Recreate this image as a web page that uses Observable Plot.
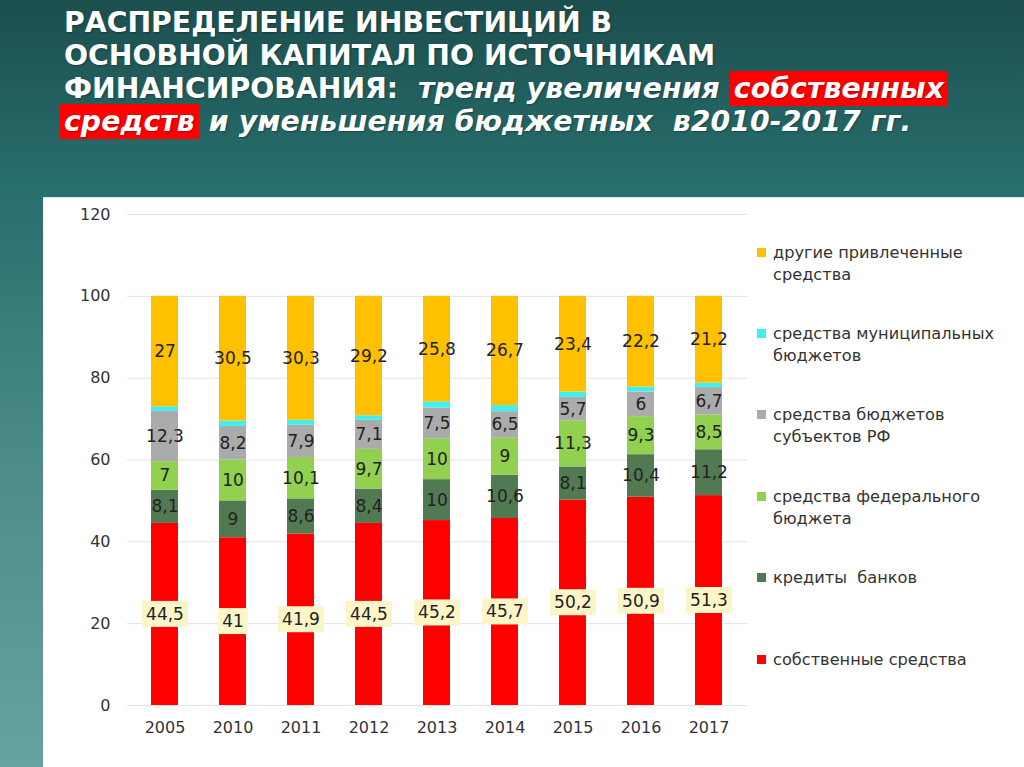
<!DOCTYPE html>
<html>
<head>
<meta charset="utf-8">
<script src="https://cdn.jsdelivr.net/npm/d3@7"></script>
<script src="https://cdn.jsdelivr.net/npm/@observablehq/plot@0.6"></script>
<style>
  html, body { margin: 0; padding: 0; }
  body {
    width: 1024px; height: 767px; overflow: hidden; position: relative;
    background: linear-gradient(to bottom, #1c4e4e 0%, #266c6a 22%, #4b8c8a 60%, #64a3a1 100%);
    font-family: "DejaVu Sans", Verdana, sans-serif;
  }
  #title {
    position: absolute; left: 64px; top: 6px;
    color: #fff; font-weight: bold; font-size: 28.3px; line-height: 33px;
    white-space: nowrap; text-shadow: 1px 1px 2px rgba(0,0,0,0.3);
  }
  #title i { font-style: italic; letter-spacing: 0.1px; }
  #title .hl { background: #ff0000; padding: 1px 4px; }
  #panel {
    position: absolute; left: 43px; top: 197px; width: 981px; height: 570px;
    background: #fff; border-top: 1px solid #cfeeee; box-sizing: border-box;
  }
  #chart { position: absolute; left: 43px; top: 197px; }
  #legend { position: absolute; left: 757px; top: 0; }
  .lg { position: absolute; left: 0; white-space: pre; font-size: 16.2px; line-height: 22px; color: #333; }
  .lg .sw { position: absolute; left: 0; top: 6px; width: 9px; height: 9px; }
  .lg .tx { position: absolute; left: 16px; top: 0; }
</style>
</head>
<body>
<div id="title">РАСПРЕДЕЛЕНИЕ ИНВЕСТИЦИЙ В<br>ОСНОВНОЙ КАПИТАЛ ПО ИСТОЧНИКАМ<br>ФИНАНСИРОВАНИЯ:&nbsp; <i>тренд увеличения <span class="hl">собственных</span></i><br><i><span class="hl" style="margin-left:-4px">средств</span> и уменьшения бюджетных&nbsp; в2010-2017 гг.</i></div>
<div id="panel"></div>
<div id="chart"></div>
<div id="legend"></div>
<script>
// ---- data ----
const years = ["2005", "2010", "2011", "2012", "2013", "2014", "2015", "2016", "2017"];
const own       = [44.5, 41, 41.9, 44.5, 45.2, 45.7, 50.2, 50.9, 51.3];   // собственные средства
const banks     = [8.1, 9, 8.6, 8.4, 10, 10.6, 8.1, 10.4, 11.2];         // кредиты банков
const federal   = [7, 10, 10.1, 9.7, 10, 9, 11.3, 9.3, 8.5];             // федеральный бюджет
const regional  = [12.3, 8.2, 7.9, 7.1, 7.5, 6.5, 5.7, 6, 6.7];          // бюджеты субъектов РФ
const municipal = [1.1, 1.3, 1.2, 1.1, 1.5, 1.5, 1.3, 1.2, 1.1];         // муниципальные бюджеты (не подписаны)
const other     = [27, 30.5, 30.3, 29.2, 25.8, 26.7, 23.4, 22.2, 21.2];  // другие привлеченные средства

const seriesKeys   = ["own", "banks", "federal", "regional", "municipal", "other"];
const seriesValues = [own, banks, federal, regional, municipal, other];
const seriesLabels = [
  "собственные средства",
  "кредиты  банков",
  "средства федерального\nбюджета",
  "средства бюджетов\nсубъектов РФ",
  "средства муниципальных\nбюджетов",
  "другие привлеченные\nсредства"
];
const seriesColors = ["#ff0000", "#527a52", "#92d050", "#ababab", "#3ff0f0", "#ffc000"];
const yTicks = [0, 20, 40, 60, 80, 100, 120];

// ---- table ----
const rows = [];
seriesKeys.forEach((k, si) => {
  years.forEach((y, yi) => rows.push({year: y, series: k, value: seriesValues[si][yi]}));
});
const fmt = v => String(v).replace(".", ",");

const stackOpts = (textFn) => Plot.stackY({
  x: "year", y: "value", z: "series", order: seriesKeys, text: textFn
});

const chart = Plot.plot({
  width: 720,
  height: 570,
  marginLeft: 84,
  marginRight: 16,
  marginTop: 17,
  marginBottom: 62,
  style: {fontFamily: "DejaVu Sans, Verdana, sans-serif", fontSize: "16px", color: "#333", background: "transparent"},
  x: {domain: years, paddingInner: 0.6, paddingOuter: 0.33, align: 0.5, label: null},
  y: {domain: [0, 120], label: null},
  color: {domain: seriesKeys, range: seriesColors},
  marks: [
    Plot.gridY(yTicks, {stroke: "#e3e3e3", strokeOpacity: 1}),
    Plot.axisY(yTicks, {tickSize: 0, tickPadding: 17, label: null, fill: "#333"}),
    Plot.axisX({tickSize: 0, tickPadding: 16, label: null, fill: "#333"}),
    Plot.barY(rows, Plot.stackY({x: "year", y: "value", z: "series", order: seriesKeys, fill: "series"})),
    Plot.text(rows, {...stackOpts(d => (d.series === "own" || d.series === "municipal") ? null : fmt(d.value)), fontSize: 17, fill: "#222"}),
    Plot.text(rows, {...stackOpts(d => d.series === "own" ? fmt(d.value) : null), fontSize: 17, fill: "#222"})
  ]
});
document.getElementById("chart").appendChild(chart);

// label boxes behind the red-segment labels (last text group)
const textGroups = chart.querySelectorAll('g[aria-label="text"]');
const lastGroup = textGroups[textGroups.length - 1];
lastGroup.querySelectorAll("text").forEach(t => {
  const b = t.getBBox();
  const r = document.createElementNS("http://www.w3.org/2000/svg", "rect");
  r.setAttribute("x", b.x - 4);
  r.setAttribute("y", b.y - 3);
  r.setAttribute("width", b.width + 8);
  r.setAttribute("height", b.height + 6);
  r.setAttribute("fill", "#fcf5c8");
  if (t.getAttribute("transform")) r.setAttribute("transform", t.getAttribute("transform"));
  t.parentNode.insertBefore(r, t);
});

// ---- legend (top to bottom: reverse stack order) ----
const legend = document.getElementById("legend");
const legendTops = [242, 323, 404, 486, 567, 649];
seriesKeys.slice().reverse().forEach((k, i) => {
  const si = seriesKeys.indexOf(k);
  const div = document.createElement("div");
  div.className = "lg";
  div.style.top = legendTops[i] + "px";
  div.innerHTML = `<span class="sw" style="background:${seriesColors[si]}"></span><span class="tx"></span>`;
  div.querySelector(".tx").textContent = seriesLabels[si];
  legend.appendChild(div);
});
</script>
</body>
</html>
